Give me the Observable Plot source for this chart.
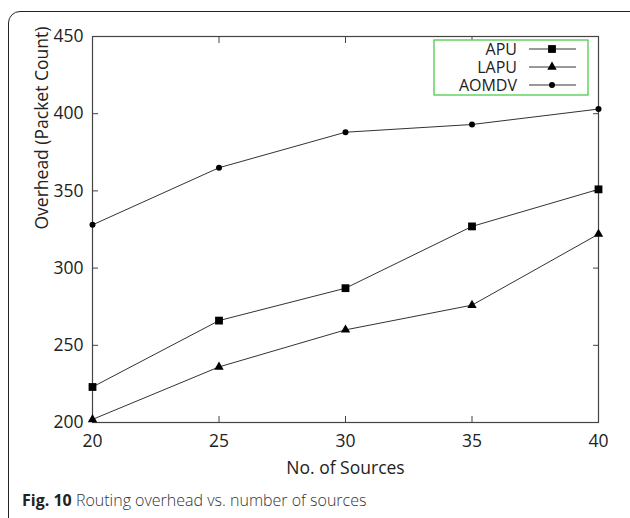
<!DOCTYPE html>
<html><head><meta charset="utf-8">
<script src="https://cdn.jsdelivr.net/npm/d3@7"></script>
<script src="https://cdn.jsdelivr.net/npm/@observablehq/plot@0.6"></script>
<style>
body{margin:0;background:#fff;}
#wrap{position:relative;width:630px;height:518px;overflow:hidden;font-family:"Open Sans",sans-serif;}
#border{position:absolute;left:8px;top:11px;width:680px;height:580px;border:1.6px solid #222;border-radius:12px;}
#chart{position:absolute;left:0;top:0;}
#legend{position:absolute;left:0;top:0;pointer-events:none;}
#caption{position:absolute;left:22px;top:489px;font-size:16px;color:#333;white-space:nowrap;font-weight:300;}
#caption b{font-weight:700;color:#222;}
</style></head><body>
<div id="wrap"><div id="border"></div><div id="chart"></div><svg id="legend" width="630" height="518"></svg>
<div id="caption"><b>Fig. 10</b> Routing overhead vs. number of sources</div></div>
<script>
const sources = [20, 25, 30, 35, 40];
const apu = [223, 266, 287, 327, 351];
const lapu = [202, 236, 260, 276, 322];
const aomdv = [328, 365, 388, 393, 403];
const seriesNames = ["APU", "LAPU", "AOMDV"];
const seriesSymbols = ["square", "triangle", "circle"];
const seriesRadius = [4.4, 3.5, 3];
const xTicks = [20, 25, 30, 35, 40];
const yTicks = [200, 250, 300, 350, 400, 450];
const xTitle = "No. of Sources";
const yTitle = "Overhead (Packet Count)";

const values = [apu, lapu, aomdv];
const rows = [];
seriesNames.forEach((s, i) => sources.forEach((x, j) => rows.push({series: s, x, y: values[i][j]})));

const ink = "#333";
const font = "'Open Sans', sans-serif";
const chart = Plot.plot({
  width: 630, height: 485,
  marginTop: 36, marginBottom: 63, marginLeft: 92, marginRight: 32,
  style: {fontFamily: font, fontSize: "17.5px", color: "#222", background: "transparent"},
  x: {domain: [20, 40]},
  y: {domain: [200, 450]},
  marks: [
    Plot.frame({stroke: "#444", strokeWidth: 1.2}),
    Plot.axisX({ticks: xTicks, tickSize: -6, tickPadding: 18, stroke: "#444", fontSize: 17.5, label: null}),
    Plot.axisX({anchor: "top", ticks: xTicks, tickSize: -6, tickFormat: () => "", label: null, stroke: "#444"}),
    Plot.axisY({ticks: yTicks, tickSize: -6, tickPadding: 15, stroke: "#444", fontSize: 17.5, label: null}),
    Plot.axisY({anchor: "right", ticks: yTicks, tickSize: -6, tickFormat: () => "", label: null, stroke: "#444"}),
    Plot.text([xTitle], {text: d => d, frameAnchor: "bottom", dy: 46, lineAnchor: "middle", fontSize: 17.5, fill: "#222"}),
    Plot.text([yTitle], {text: d => d, frameAnchor: "left", dx: -50, rotate: -90, lineAnchor: "middle", fontSize: 17.5, fill: "#222"}),
    Plot.line(rows, {x: "x", y: "y", z: "series", stroke: ink, strokeWidth: 1}),
    ...seriesNames.map((s, i) => Plot.dot(rows.filter(d => d.series === s),
      {x: "x", y: "y", symbol: () => seriesSymbols[i], r: seriesRadius[i], fill: "#000", stroke: "none"}))
  ],
  symbol: {domain: seriesSymbols, range: seriesSymbols}
});
document.getElementById("chart").appendChild(chart);

// legend
const lg = d3.select("#legend");
lg.append("rect").attr("x", 434).attr("y", 40).attr("width", 154).attr("height", 55)
  .attr("fill", "#fff").attr("stroke", "#4ccc4c").attr("stroke-width", 1.3);
const symMap = {square: d3.symbolSquare, triangle: d3.symbolTriangle, circle: d3.symbolCircle};
seriesNames.forEach((s, i) => {
  const cy = 49 + i * 18;
  lg.append("text").attr("x", 517).attr("y", cy).attr("dy", "0.35em").attr("text-anchor", "end")
    .attr("font-family", font).attr("font-size", 16).attr("fill", "#222").text(s);
  lg.append("line").attr("x1", 529).attr("x2", 576).attr("y1", cy).attr("y2", cy).attr("stroke", ink);
  lg.append("path").attr("transform", `translate(552,${cy})`)
    .attr("d", d3.symbol(symMap[seriesSymbols[i]], Math.PI * seriesRadius[i] ** 2)()).attr("fill", "#000");
});
</script>
</body></html>
